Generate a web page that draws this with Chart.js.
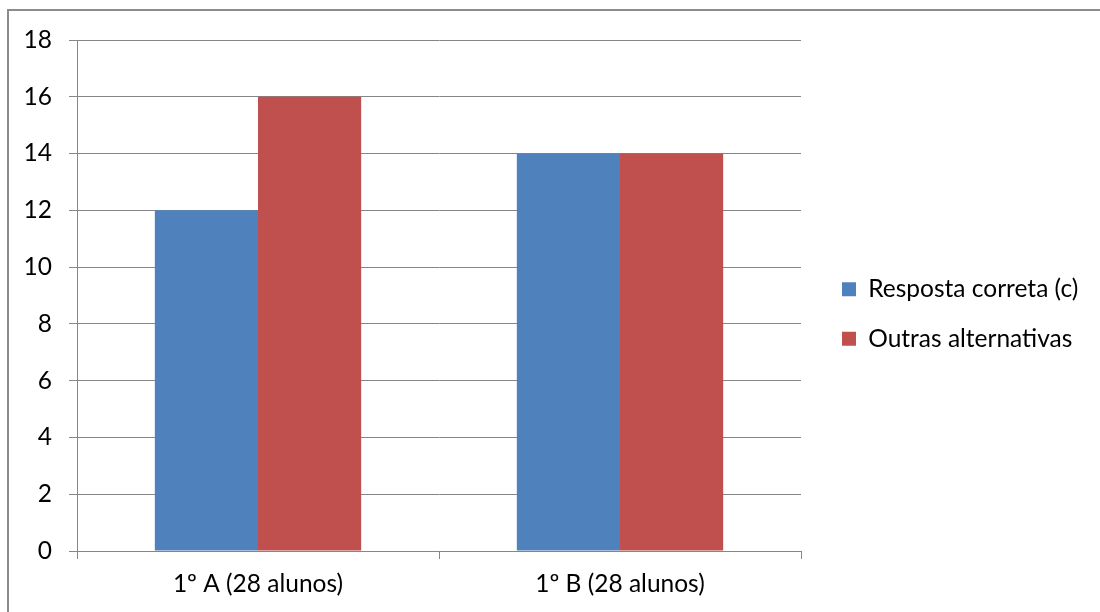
<!DOCTYPE html>
<html lang="pt">
<head>
<meta charset="UTF-8">
<title>Resposta correta</title>
<script src="https://cdn.jsdelivr.net/npm/chart.js"></script>
<style>
  body { margin: 0; background: #fff; }
  #wrap { position: relative; width: 1100px; height: 612px; overflow: hidden; }
  #frame { position: absolute; left: 7px; top: 9px; width: 1200px; height: 700px;
           border-top: 2px solid #8c8c8c; border-left: 2px solid #8c8c8c; }
  canvas { position: absolute; left: 0; top: 0; }
</style>
</head>
<body>
<div id="wrap">
  <div id="frame"></div>
  <canvas id="chartCanvas" width="1100" height="612"></canvas>
</div>
<script>
const categories = ['1º A (28 alunos)', '1º B (28 alunos)'];
const seriesNames = ['Resposta correta (c)', 'Outras alternativas'];
const corretas = [12, 14];
const outras = [16, 14];

const FONT = 'Lato, "Open Sans", sans-serif';
const FSIZE = 24.5;
const GRID = '#868686';

// move the legend a bit right / up, so there is a gap after the plot
const legendShift = {
  id: 'legendShift',
  afterLayout(chart) {
    const lg = chart.legend;
    lg.left += 16; lg.right += 16;
    lg.top -= 12; lg.bottom -= 12;
  }
};

new Chart(document.getElementById('chartCanvas'), {
  type: 'bar',
  data: {
    labels: categories,
    datasets: [
      { label: seriesNames[0], data: corretas, backgroundColor: '#4F81BD' },
      { label: seriesNames[1], data: outras, backgroundColor: '#C0504D' }
    ]
  },
  plugins: [legendShift],
  options: {
    responsive: false,
    animation: false,
    categoryPercentage: 0.57,
    barPercentage: 1,
    layout: { padding: { top: 40, right: 32, bottom: 0, left: 0 } },
    scales: {
      x: {
        grid: { display: true, offset: true, drawOnChartArea: false, color: GRID, tickLength: 8 },
        border: { color: GRID, width: 1 },
        ticks: { color: '#000', font: { family: FONT, size: FSIZE }, padding: 10 },
        afterFit: s => { s.height = 61; }
      },
      y: {
        min: 0, max: 18,
        ticks: { stepSize: 2, color: '#000', font: { family: FONT, size: FSIZE }, padding: 17 },
        grid: { color: GRID, tickLength: 8 },
        border: { color: GRID, width: 1 },
        afterFit: s => { s.width = 77; }
      }
    },
    plugins: {
      tooltip: { enabled: false },
      legend: {
        position: 'right',
        labels: {
          color: '#000',
          font: { family: FONT, size: FSIZE },
          boxWidth: 14, boxHeight: 14,
          padding: 25
        }
      }
    }
  }
});
</script>
</body>
</html>
